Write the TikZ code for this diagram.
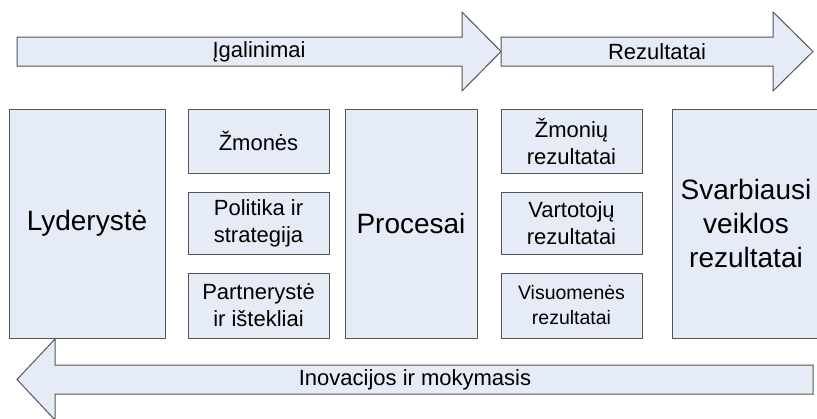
\documentclass[tikz,border=0pt]{standalone}
\usepackage{fontspec}
\setmainfont{Liberation Sans}
\definecolor{boxfill}{RGB}{230,236,247}
\definecolor{boxline}{RGB}{85,85,85}
\tikzset{
  box/.style={draw=boxline, fill=boxfill, line width=1pt, inner sep=0pt, align=center, text=black},
  arrowshape/.style={draw=boxline, fill=boxfill, line width=1pt, line join=miter},
  lbl/.style={inner sep=0pt, text=black, font=\fontsize{22}{27}\selectfont},
  small/.style={font=\fontsize{22}{27}\selectfont},
  smaller/.style={font=\fontsize{19.5}{25}\selectfont},
  big/.style={font=\fontsize{28}{34}\selectfont}
}
\begin{document}
\begin{tikzpicture}[x=1pt,y=-1pt]
\clip (0,0) rectangle (817,418);
\fill[white] (0,0) rectangle (817,418);
% top arrows
\draw[arrowshape] (17,37) -- (462,37) -- (462,12) -- (501,51.5) -- (462,91) -- (462,66) -- (17,66) -- cycle;
\draw[arrowshape] (501,37) -- (773,37) -- (773,12) -- (813,51.5) -- (773,91) -- (773,66) -- (501,66) -- cycle;
\node[lbl] (igal) at (259,51.5) {Įgalinimai};
\node[lbl] (rez) at (657,51.5) {Rezultatai};
% boxes
\node[box, big, minimum width=156, minimum height=229] (lyd) at (87,223.5) {Lyderystė};
\node[box, small, minimum width=141, minimum height=64] (zmo) at (258.5,141) {Žmonės};
\node[box, small, minimum width=141, minimum height=62] (pol) at (258.5,223) {Politika ir\\strategija};
\node[box, small, minimum width=141, minimum height=65] (par) at (258.5,305.5) {Partnerystė\\ir ištekliai};
\node[box, big, minimum width=132, minimum height=229] (proc) at (411,223.5) {Procesai};
\node[box, small, minimum width=141, minimum height=64] (zr) at (571.5,141) {Žmonių\\rezultatai};
\node[box, small, minimum width=141, minimum height=62] (vr) at (571.5,223) {Vartotojų\\rezultatai};
\node[box, smaller, minimum width=141, minimum height=65] (visr) at (571.5,305.5) {Visuomenės\\rezultatai};
\node[box, big, minimum width=148, minimum height=229] (svr) at (746,223.5) {Svarbiausi\\veiklos\\rezultatai};
% bottom arrow
\draw[arrowshape] (813,365) -- (55,365) -- (55,339) -- (17,379.5) -- (55,420) -- (55,394) -- (813,394) -- cycle;
\node[lbl] (ino) at (415,379.5) {Inovacijos ir mokymasis};
\end{tikzpicture}
\end{document}
